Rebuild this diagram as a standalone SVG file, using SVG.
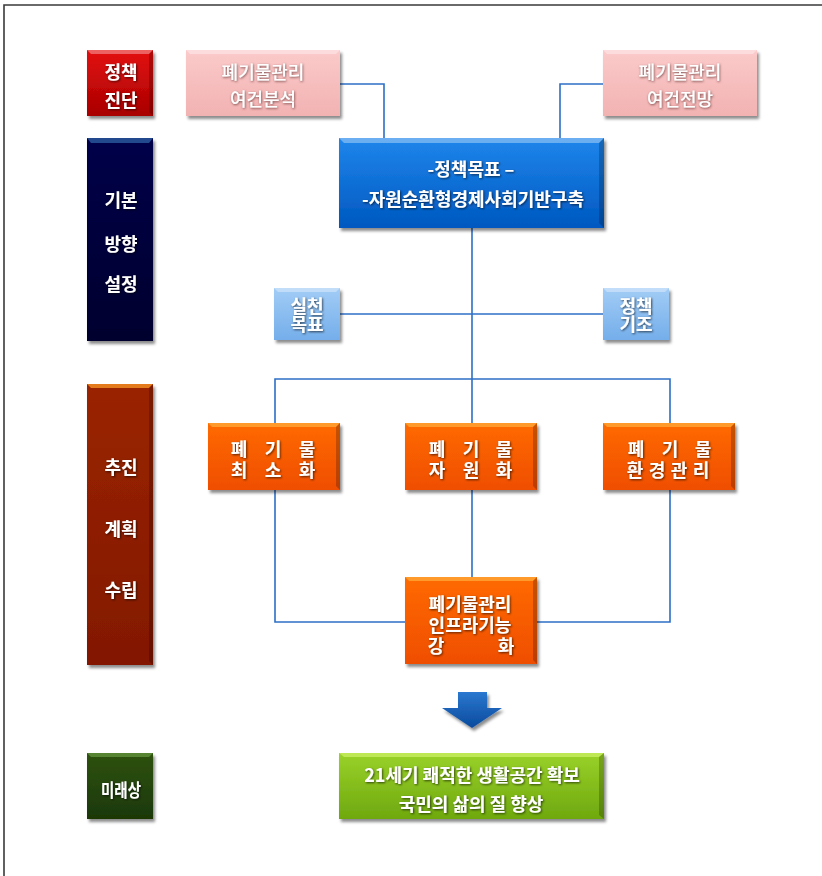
<svg xmlns="http://www.w3.org/2000/svg" width="822" height="876" viewBox="0 0 822 876">
<style>
text{font-family:"Noto Sans CJK KR","Noto Sans",sans-serif;font-weight:bold;fill:#fff;text-anchor:middle;font-size:18px}
.conn{fill:none;stroke:#2e6fc6;stroke-width:1.6}
.hl{fill:#fff;opacity:0.35}
.dk{fill:#000;opacity:0.22}
.pinktx{fill:#fff;filter:url(#tsh2);font-weight:500}
.tx{filter:url(#tsh)}
</style>
<defs>
<filter id="sh" x="-10%" y="-10%" width="130%" height="130%"><feDropShadow dx="2" dy="3" stdDeviation="1.8" flood-color="#000" flood-opacity="0.45"/></filter>
<filter id="tsh" x="-10%" y="-20%" width="130%" height="160%"><feDropShadow dx="1" dy="1" stdDeviation="0.8" flood-color="#000" flood-opacity="0.65"/></filter>
<filter id="tsh2" x="-10%" y="-20%" width="130%" height="160%"><feDropShadow dx="0.6" dy="0.9" stdDeviation="0.9" flood-color="#6a3a3a" flood-opacity="0.9"/></filter>
<linearGradient id="gRed" x1="0" y1="0" x2="0" y2="1"><stop offset="0" stop-color="#e41010"/><stop offset="1" stop-color="#a80000"/></linearGradient>
<linearGradient id="gPink" x1="0" y1="0" x2="0" y2="1"><stop offset="0" stop-color="#fbcaca"/><stop offset="1" stop-color="#f2b2b2"/></linearGradient>
<linearGradient id="gNavy" x1="0" y1="0" x2="0" y2="1"><stop offset="0" stop-color="#00064a"/><stop offset="1" stop-color="#00002e"/></linearGradient>
<linearGradient id="gBlue" x1="0" y1="0" x2="0" y2="1"><stop offset="0" stop-color="#1e86ec"/><stop offset="1" stop-color="#0058c0"/></linearGradient>
<linearGradient id="gLBlue" x1="0" y1="0" x2="0" y2="1"><stop offset="0" stop-color="#a2ccf6"/><stop offset="1" stop-color="#74aeea"/></linearGradient>
<linearGradient id="gOr" x1="0" y1="0" x2="0" y2="1"><stop offset="0" stop-color="#ff6a00"/><stop offset="1" stop-color="#ef4e00"/></linearGradient>
<linearGradient id="gDRed" x1="0" y1="0" x2="0" y2="1"><stop offset="0" stop-color="#9a2400"/><stop offset="1" stop-color="#821800"/></linearGradient>
<linearGradient id="gDGreen" x1="0" y1="0" x2="0" y2="1"><stop offset="0" stop-color="#2e5212"/><stop offset="1" stop-color="#1c3806"/></linearGradient>
<linearGradient id="gGreen" x1="0" y1="0" x2="0" y2="1"><stop offset="0" stop-color="#9ad22a"/><stop offset="1" stop-color="#6ea80e"/></linearGradient>
<linearGradient id="gArrow" x1="0" y1="0" x2="0" y2="1"><stop offset="0" stop-color="#2a78d0"/><stop offset="1" stop-color="#0a4a9c"/></linearGradient>
</defs>
<rect width="822" height="876" fill="#fff"/>
<path d="M4 876 V5 H822" fill="none" stroke="#3a3a3a" stroke-width="1.6"/>

<g id="connectors">
<path class="conn" d="M340 84 H384 V138"/>
<path class="conn" d="M603 84 H560 V138"/>
<path class="conn" d="M472 228 V379"/>
<path class="conn" d="M340 314 H603"/>
<path class="conn" d="M275 424 V379 H670 V424"/>
<path class="conn" d="M472 379 V424"/>
<path class="conn" d="M275 490 V622 H405"/>
<path class="conn" d="M472 490 V578"/>
<path class="conn" d="M670 490 V622 H537"/>
</g>

<g id="lbl-diagnosis">
<rect x="87" y="50" width="66" height="66" fill="url(#gRed)" filter="url(#sh)"/>
<polygon class="hl" points="87,50 153,50 149,54 91,54"/>
<polygon class="dk" points="153,50 153,116 149,112 149,54"/>
<text class="tx" x="121" y="79">정책</text>
<text class="tx" x="121" y="107">진단</text>
</g>

<g id="lbl-direction">
<rect x="87" y="138" width="66" height="203" fill="url(#gNavy)" filter="url(#sh)"/>
<polygon fill="#2a5aa0" opacity="0.8" points="87,138 153,138 149,143 91,143"/>
<text class="tx" x="121" y="207">기본</text>
<text class="tx" x="121" y="251">방향</text>
<text class="tx" x="121" y="291">설정</text>
</g>

<g id="lbl-plan">
<rect x="87" y="384" width="66" height="281" fill="url(#gDRed)" filter="url(#sh)"/>
<polygon fill="#f08a20" opacity="0.85" points="87,384 153,384 149,388 91,388"/>
<polygon class="dk" points="153,384 153,665 149,661 149,388"/>
<text class="tx" x="121" y="474">추진</text>
<text class="tx" x="121" y="536">계획</text>
<text class="tx" x="121" y="597">수립</text>
</g>

<g id="lbl-future">
<rect x="87" y="753" width="66" height="66" fill="url(#gDGreen)" filter="url(#sh)"/>
<polygon fill="#6a9a40" opacity="0.7" points="87,753 153,753 149,757 91,757"/>
<text class="tx" x="121" y="797" font-size="16" textLength="40" lengthAdjust="spacingAndGlyphs">미래상</text>
</g>

<g id="n-analysis">
<rect x="186" y="50" width="154" height="66" fill="url(#gPink)" filter="url(#sh)"/>
<polygon class="hl" points="186,50 340,50 336,54 190,54"/>
<text class="pinktx" x="263" y="79">폐기물관리</text>
<text class="pinktx" x="263" y="106">여건분석</text>
</g>

<g id="n-outlook">
<rect x="603" y="50" width="154" height="66" fill="url(#gPink)" filter="url(#sh)"/>
<polygon class="hl" points="603,50 757,50 753,54 607,54"/>
<text class="pinktx" x="680" y="79">폐기물관리</text>
<text class="pinktx" x="680" y="106">여건전망</text>
</g>

<g id="n-goal">
<rect x="339" y="138" width="265" height="90" fill="url(#gBlue)" filter="url(#sh)"/>
<polygon class="hl" points="339,138 604,138 599,143 344,143"/>
<polygon class="dk" points="604,138 604,228 599,223 599,143"/>
<text class="tx" x="471" y="176">-정책목표 –</text>
<text class="tx" x="473" y="206">-자원순환형경제사회기반구축</text>
</g>

<g id="n-practice">
<rect x="274" y="288" width="66" height="52" fill="url(#gLBlue)" filter="url(#sh)"/>
<polygon class="hl" points="274,288 340,288 336,292 278,292"/>
<text class="tx" x="307" y="313" font-size="16.5">실천</text>
<text class="tx" x="307" y="331" font-size="16.5">목표</text>
</g>

<g id="n-basis">
<rect x="603" y="288" width="66" height="52" fill="url(#gLBlue)" filter="url(#sh)"/>
<polygon class="hl" points="603,288 669,288 665,292 607,292"/>
<text class="tx" x="636" y="313" font-size="16.5">정책</text>
<text class="tx" x="636" y="331" font-size="16.5">기조</text>
</g>

<g id="n-minimize">
<rect x="208" y="423" width="132" height="67" fill="url(#gOr)" filter="url(#sh)"/>
<polygon fill="#ffa030" opacity="0.9" points="208,423 340,423 336,427 212,427"/>
<polygon class="dk" points="340,423 340,490 336,486 336,427"/>
<text class="tx" x="239 273 307" y="456">폐기물</text>
<text class="tx" x="239 273 307" y="477">최소화</text>
</g>

<g id="n-resource">
<rect x="405" y="423" width="132" height="67" fill="url(#gOr)" filter="url(#sh)"/>
<polygon fill="#ffa030" opacity="0.9" points="405,423 537,423 533,427 409,427"/>
<polygon class="dk" points="537,423 537,490 533,486 533,427"/>
<text class="tx" x="437 471 504" y="456">폐기물</text>
<text class="tx" x="437 471 504" y="477">자원화</text>
</g>

<g id="n-envmgmt">
<rect x="603" y="423" width="132" height="67" fill="url(#gOr)" filter="url(#sh)"/>
<polygon fill="#ffa030" opacity="0.9" points="603,423 735,423 731,427 607,427"/>
<polygon class="dk" points="735,423 735,490 731,486 731,427"/>
<text class="tx" x="636 670 703" y="456">폐기물</text>
<text class="tx" x="635 657 679 701" y="477">환경관리</text>
</g>

<g id="n-infra">
<rect x="405" y="577" width="132" height="87" fill="url(#gOr)" filter="url(#sh)"/>
<polygon fill="#ffa030" opacity="0.9" points="405,577 537,577 533,581 409,581"/>
<polygon class="dk" points="537,577 537,664 533,660 533,581"/>
<text class="tx" x="470" y="611">폐기물관리</text>
<text class="tx" x="470" y="632">인프라기능</text>
<text class="tx" x="436 506" y="653">강화</text>
</g>

<g id="arrow">
<polygon points="458,692 487,692 487,708 502,708 472,728 442,708 458,708" fill="url(#gArrow)" filter="url(#sh)"/>
</g>

<g id="n-vision">
<rect x="339" y="753" width="265" height="66" fill="url(#gGreen)" filter="url(#sh)"/>
<polygon fill="#c8ee60" opacity="0.8" points="339,753 604,753 599,757 344,757"/>
<polygon class="dk" points="604,753 604,819 599,815 599,757"/>
<text class="tx" x="472" y="782" font-size="18.5">21세기 쾌적한 생활공간 확보</text>
<text class="tx" x="471" y="811" font-size="18.5">국민의 삶의 질 향상</text>
</g>
</svg>
